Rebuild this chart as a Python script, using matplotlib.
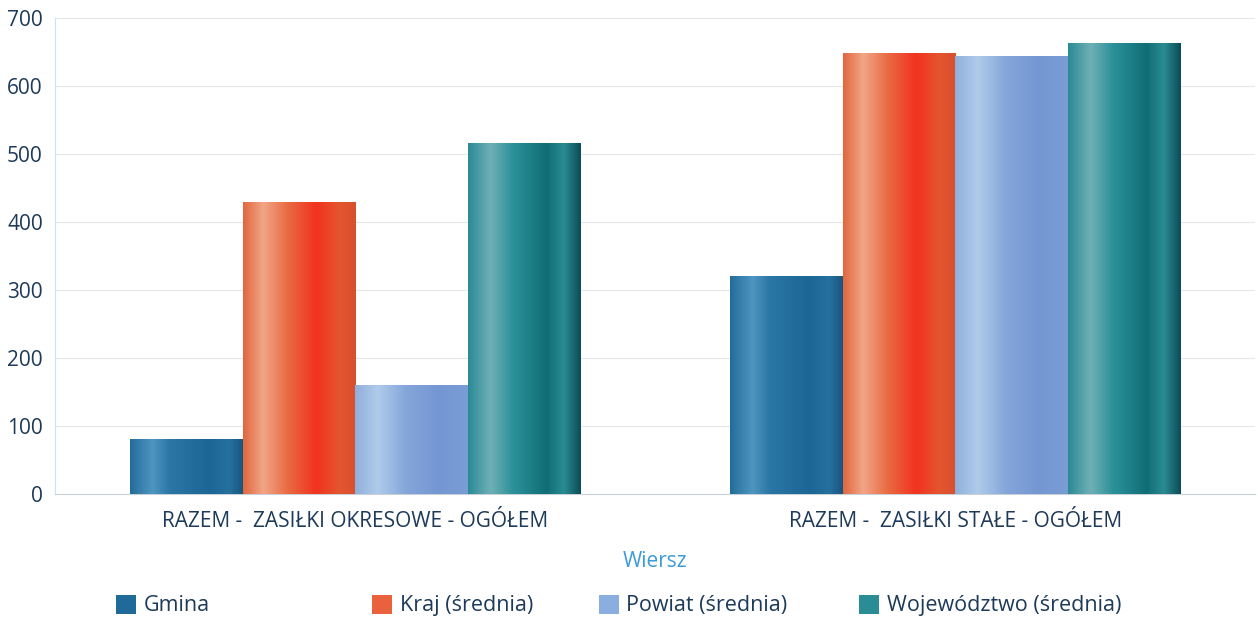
import matplotlib
matplotlib.use("Agg")
import matplotlib.pyplot as plt
import numpy as np
from matplotlib.colors import LinearSegmentedColormap
from matplotlib.patches import Rectangle

plt.rcParams['font.family'] = ['Open Sans', 'DejaVu Sans']

# dane
kategorie = ['RAZEM -  ZASIŁKI OKRESOWE - OGÓŁEM', 'RAZEM -  ZASIŁKI STAŁE - OGÓŁEM']
serie = ['Gmina', 'Kraj (średnia)', 'Powiat (średnia)', 'Województwo (średnia)']
gmina = [81, 320]
kraj = [430, 648]
powiat = [160, 644]
wojewodztwo = [516, 664]
wartosci = [gmina, kraj, powiat, wojewodztwo]
yticks = [0, 100, 200, 300, 400, 500, 600, 700]

# gradienty "walcowe" dla każdej serii
gradienty = [
    [(0, '#236c9a'), (0.2, '#4f96c1'), (0.35, '#2a76a5'), (0.7, '#1b6694'), (0.88, '#25709e'), (1, '#1a5580')],
    [(0, '#e0683e'), (0.18, '#f2a587'), (0.4, '#e86a42'), (0.65, '#f2321f'), (0.85, '#e4552e'), (1, '#d8502e')],
    [(0, '#8fb0dc'), (0.2, '#b0cbea'), (0.45, '#85a6da'), (0.75, '#7496d2'), (1, '#7b9dd6')],
    [(0, '#2a8a95'), (0.2, '#6fb0b6'), (0.4, '#2b9199'), (0.7, '#106d76'), (0.85, '#2a8c93'), (1, '#0b4c58')],
]
legenda_kolory = ['#1f6a98', '#e9623d', '#8aaee0', '#2a8c94']

fig = plt.figure(figsize=(12.58, 6.26), dpi=100)
ax = fig.add_axes([0.044, 0.211, 0.954, 0.76])

x = np.arange(len(kategorie))
w = 0.188
grad = np.linspace(0, 1, 256).reshape(1, -1)
for i, vals in enumerate(wartosci):
    bars = ax.bar(x + (i - 1.5) * w, vals, w, color=legenda_kolory[i], zorder=2, linewidth=0)
    cmap = LinearSegmentedColormap.from_list('g%d' % i, gradienty[i])
    for b in bars:
        bx, by, bw, bh = b.get_x(), b.get_y(), b.get_width(), b.get_height()
        im = ax.imshow(grad, cmap=cmap, extent=(bx, bx + bw, by, by + bh),
                       aspect='auto', zorder=3, interpolation='bilinear')
        im.set_clip_path(b)

ax.set_xlim(-0.5, 1.5)
ax.set_ylim(0, 700)
ax.set_yticks(yticks)
ax.set_xticks(x)
ax.set_xticklabels(kategorie)
ax.tick_params(length=0, labelsize=15, colors='#1d3a5a')
ax.tick_params(axis='y', pad=9)
ax.tick_params(axis='x', pad=12)
ax.grid(axis='y', color='#e3e6ea', linewidth=0.8, zorder=0)
for s in ['top', 'right']:
    ax.spines[s].set_visible(False)
ax.spines['left'].set_color('#cfe0ee')
ax.spines['bottom'].set_color('#c8d0d8')
ax.set_xlabel('Wiersz', fontsize=15, color='#3b9ad8', labelpad=14)

# legenda rozłożona ręcznie jak w oryginale
leg_x = [0.092, 0.296, 0.476, 0.683]
for i, nazwa in enumerate(serie):
    fig.patches.append(Rectangle((leg_x[i], 0.019), 0.016, 0.030, transform=fig.transFigure,
                                 facecolor=legenda_kolory[i], edgecolor='none'))
    fig.text(leg_x[i] + 0.022, 0.033, nazwa, fontsize=15.5, color='#1d3a5a', va='center')

fig.savefig('out.png', dpi=100)
